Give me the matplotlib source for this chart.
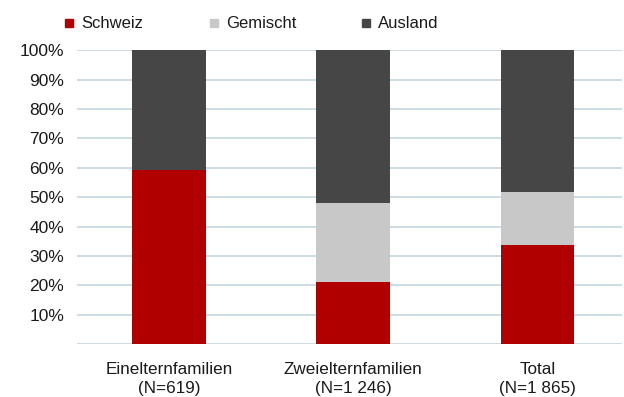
import numpy as np
import matplotlib
matplotlib.use('Agg')
import matplotlib.pyplot as plt

plt.rcParams['font.family'] = ['Liberation Sans', 'DejaVu Sans']

categories = ['Einelternfamilien\n(N=619)', 'Zweielternfamilien\n(N=1 246)', 'Total\n(N=1 865)']
series = ['Schweiz', 'Gemischt', 'Ausland']
schweiz = [59.3, 21.1, 33.7]
gemischt = [0.0, 26.8, 17.9]
ausland = [40.7, 52.1, 48.4]
colors = ['#b00000', '#c8c8c8', '#464646']
yticks = [10, 20, 30, 40, 50, 60, 70, 80, 90, 100]

fig = plt.figure(figsize=(6.24, 3.97), dpi=100)
ax = fig.add_axes([76.7 / 624, 1 - 344 / 397, (622 - 76.7) / 624, (344 - 50.3) / 397])

x = np.arange(len(categories))
bottom = np.zeros(len(categories))
for vals, col in zip([schweiz, gemischt, ausland], colors):
    ax.bar(x, vals, width=0.4, bottom=bottom, color=col, zorder=3)
    bottom += np.array(vals)

ax.set_ylim(0, 100)
ax.set_xlim(-0.5, (622 - 76.7) / 184.3 - 0.5)
ax.set_yticks(yticks)
ax.set_yticklabels([f'{v}%' for v in yticks], fontsize=12.5)
ax.set_xticks(x)
ax.set_xticklabels(categories, linespacing=1.35)
ax.grid(axis='y', color='#c5d5df', linewidth=1.2, zorder=0)
ax.axhline(0, color='#c5d5df', linewidth=1.2, zorder=0)
for s in ax.spines.values():
    s.set_visible(False)
ax.tick_params(length=0, colors='#1a1a1a')
ax.tick_params(axis='x', pad=13, labelsize=12.3)
ax.tick_params(axis='y', pad=9)

# legend
leg_x = [65, 210, 362]
for lx, name, col in zip(leg_x, series, colors):
    fig.patches.append(plt.Rectangle((lx / 624, 1 - 27 / 397), 8 / 624, 8 / 397,
                                     transform=fig.transFigure, color=col, figure=fig))
    fig.text((lx + 16) / 624, 1 - 23 / 397, name, fontsize=12, va='center', ha='left', color='#1a1a1a')

fig.savefig('out.png', dpi=100)
